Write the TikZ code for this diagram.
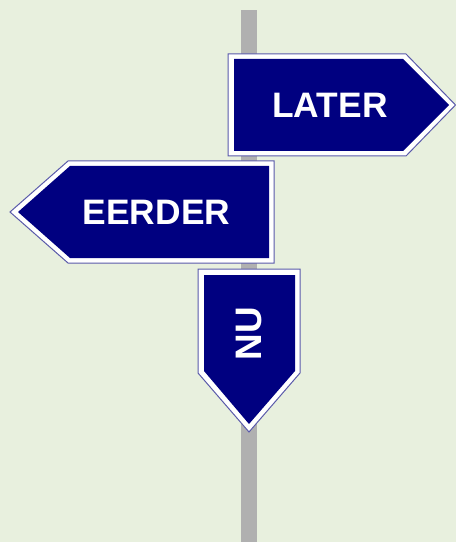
\documentclass[tikz,border=0pt]{standalone}
\usepackage{fontspec}
\setmainfont{Liberation Sans}
\definecolor{bg}{RGB}{232,240,222}
\definecolor{navy}{RGB}{0,0,128}
\definecolor{edge}{RGB}{90,90,170}
\definecolor{pole}{RGB}{176,176,176}
\begin{document}
\begin{tikzpicture}[x=1bp,y=-1bp,
  outer/.style={fill=white,draw=edge,line width=1bp,line join=miter},
  inner/.style={fill=navy},
  signtext/.style={text=white,font=\bfseries\fontsize{35.5}{36}\selectfont,inner sep=0pt}]
\fill[bg] (0,0) rectangle (456,542);
\useasboundingbox (0,0) rectangle (456,542);
\fill[pole] (241,10) rectangle (257,542);
% LATER
\draw[outer] (228,54) -- (406,54) -- (455.5,105) -- (406,156) -- (228,156) -- cycle;
\fill[inner] (234,59) -- (403,59) -- (449,105) -- (403,151) -- (234,151) -- cycle;
\node[signtext] (later) at (330,105) {LATER};
% EERDER
\draw[outer] (274,161) -- (68,161) -- (10,212) -- (68,263) -- (274,263) -- cycle;
\fill[inner] (269,166) -- (70,166) -- (18,212) -- (70,258) -- (269,258) -- cycle;
\node[signtext] (eerder) at (156.5,212) {EERDER};
% NU
\draw[outer] (198,269) -- (300,269) -- (300,373) -- (249,432) -- (198,373) -- cycle;
\fill[inner] (204,275) -- (295,275) -- (295,371) -- (249,424) -- (204,371) -- cycle;
\node[signtext,rotate=90,font=\bfseries\fontsize{37}{37}\selectfont] (nu) at (248.5,333.5) {NU};
\end{tikzpicture}
\end{document}
